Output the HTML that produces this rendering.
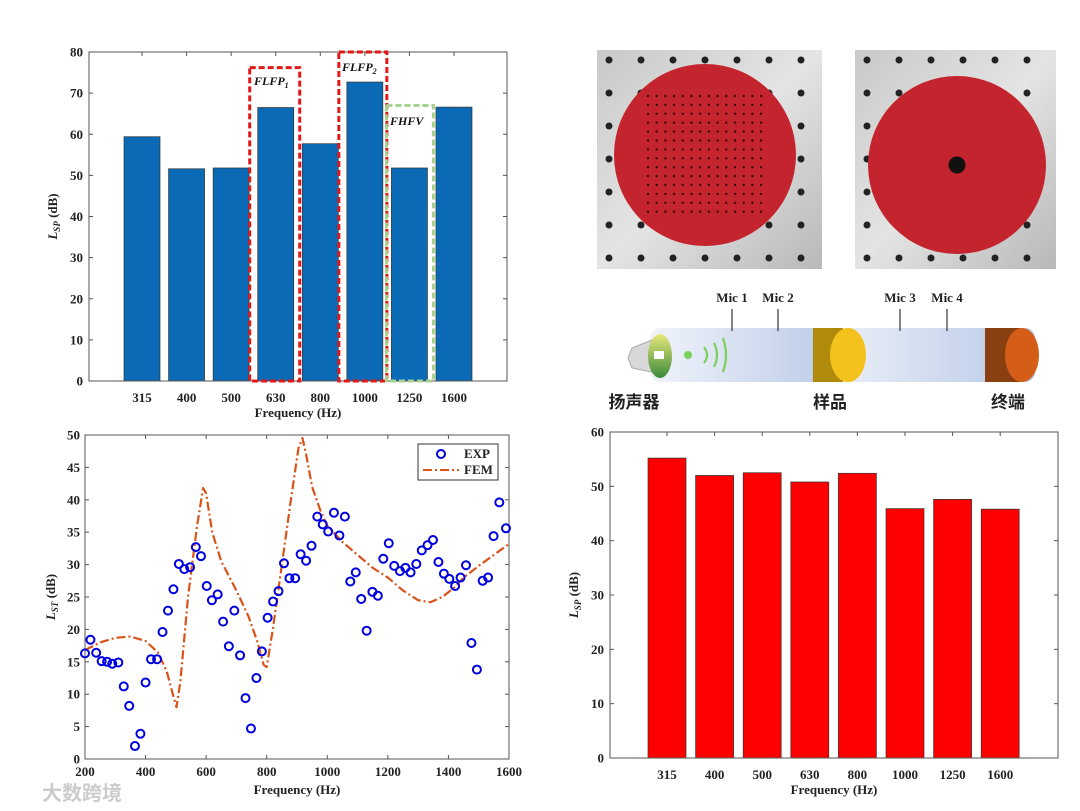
<!DOCTYPE html>
<html><head><meta charset="utf-8">
<style>
html,body{margin:0;padding:0;background:#fff;}
svg{display:block;font-family:"Liberation Serif","Noto Serif CJK SC",serif;}
.t{font-weight:bold;font-size:13px;fill:#222;}
</style></head>
<body>
<svg id="fig" width="1080" height="811" viewBox="0 0 1080 811">
<defs>
<linearGradient id="tube" x1="0" y1="0" x2="1" y2="0"><stop offset="0" stop-color="#eef2fa"/><stop offset="0.45" stop-color="#b8c8e6"/><stop offset="0.5" stop-color="#e6ecf6"/><stop offset="1" stop-color="#b0c2e4"/></linearGradient>
<linearGradient id="spk" x1="0" y1="0" x2="0" y2="1"><stop offset="0" stop-color="#e8e87a"/><stop offset="1" stop-color="#3a8a3a"/></linearGradient>
<linearGradient id="gray" x1="0" y1="0" x2="1" y2="1"><stop offset="0" stop-color="#c9c9c9"/><stop offset="0.5" stop-color="#e4e4e4"/><stop offset="1" stop-color="#b8b8b8"/></linearGradient>
</defs>
<g id="tl"></g>
<g id="bl"></g>
<g id="br"></g>
<g id="photos"></g>
<g id="schem"></g>
<text x="42" y="800" font-size="20" font-weight="bold" fill="#ccc" font-family="'Noto Sans CJK SC',sans-serif">大数跨境</text>
</svg>
<script>
// ---- data ----
const catLabels = ["315","400","500","630","800","1000","1250","1600"];
const tlValues = [59.4,51.6,51.8,66.5,57.7,72.7,51.8,66.6];
const tlYTicks = [0,10,20,30,40,50,60,70,80];
const brValues = [55.2,52.0,52.5,50.8,52.4,45.9,47.6,45.8];
const brYTicks = [0,10,20,30,40,50,60];
const expFreq = [200,218,237,255,273,290,310,328,346,365,383,400,418,438,456,474,492,510,528,547,566,583,602,619,638,656,675,693,712,730,748,766,784,803,821,839,857,875,894,912,930,948,967,985,1003,1022,1040,1058,1076,1094,1112,1130,1149,1167,1185,1203,1221,1240,1258,1275,1294,1312,1331,1349,1367,1385,1403,1422,1440,1458,1476,1494,1513,1531,1549,1568,1590];
const expValues = [16.3,18.4,16.4,15.1,15,14.7,14.9,11.2,8.2,2,3.9,11.8,15.4,15.4,19.6,22.9,26.2,30.1,29.3,29.6,32.7,31.3,26.7,24.5,25.4,21.2,17.4,22.9,16,9.4,4.7,12.5,16.6,21.8,24.3,25.9,30.2,27.9,27.9,31.6,30.6,32.9,37.4,36.2,35.1,38,34.5,37.4,27.4,28.8,24.7,19.8,25.8,25.2,30.9,33.3,29.8,29,29.5,28.8,30.1,32.2,33,33.8,30.4,28.6,27.8,26.7,28,29.9,17.9,13.8,27.5,28,34.4,39.6,35.6];
const femFreq = [200,250,300,350,400,440,470,490,502,515,540,570,590,600,620,650,700,740,770,790,800,820,850,880,905,918,930,950,980,1000,1050,1100,1150,1200,1250,1300,1340,1380,1420,1450,1500,1550,1600];
const femValues = [16.8,18,18.7,18.9,18.2,16.5,13.5,10,8,12,25,36,41.8,41,35,30.5,26,22,18,14.5,14.2,20,30,40,48,49.5,47,42,38,36,33.5,31.5,29.5,28,26,24.5,24.2,25,26.5,28,29.8,31.5,33.2];
const blXTicks = [200,400,600,800,1000,1200,1400,1600];
const blYTicks = [0,5,10,15,20,25,30,35,40,45,50];

const NS="http://www.w3.org/2000/svg";
function mk(tag,attrs,parent,txt){const e=document.createElementNS(NS,tag);for(const k in attrs)e.setAttribute(k,attrs[k]);if(txt!==undefined)e.textContent=txt;parent.appendChild(e);return e;}

function barChart(g,box,vals,yTicks,ymax,c0,dc,bw,fill,ylab){
  const [x0,y0,x1,y1]=box;
  const ys=v=>y1-(v/ymax)*(y1-y0);
  const xs=i=>c0+i*dc;
  vals.forEach((v,i)=>{
    const r=mk('rect',{x:xs(i)-bw/2,y:ys(v),width:bw,height:y1-ys(v),fill:fill,stroke:'#333','stroke-width':0.7},g);
    
    
  });
  const ax=mk('rect',{x:x0,y:y0,width:x1-x0,height:y1-y0,fill:'none',stroke:'#555','stroke-width':1},g);
  
  yTicks.forEach(t=>{
    const y=ys(t);
    mk('line',{x1:x0,x2:x0+4,y1:y,y2:y,stroke:'#555'},g);
    mk('line',{x1:x1,x2:x1-4,y1:y,y2:y,stroke:'#555'},g);
    const l=mk('text',{x:x0-6,y:y+4.5,'text-anchor':'end',class:'t'},g,String(t));
    
  });
  catLabels.forEach((c,i)=>{
    mk('line',{x1:xs(i),x2:xs(i),y1:y0,y2:y0+4,stroke:'#555'},g);
    const l=mk('text',{x:xs(i),y:y1+21,'text-anchor':'middle',class:'t'},g,c);
    
  });
  const xt=mk('text',{x:(x0+x1)/2,y:y1+36,'text-anchor':'middle',class:'t'},g,'Frequency  (Hz)');
  
  const yt=mk('text',{transform:`translate(${x0-32},${(y0+y1)/2}) rotate(-90)`,'text-anchor':'middle',class:'t'},g);
  
  mk('tspan',{'font-style':'italic'},yt,'L');
  mk('tspan',{'font-style':'italic','font-size':'9','dy':'3'},yt,ylab);
  mk('tspan',{'dy':'-3'},yt,' (dB)');
  return {xs,ys};
}

// top-left
const tl=document.getElementById('tl');
const A=barChart(tl,[89,52,507,381],tlValues,tlYTicks,80,142,44.57,36,'#0a6ab5','SP');
function dbox(x0,x1,ytop,col,label,lx,ly,name){
  const r=mk('rect',{x:x0,y:ytop,width:x1-x0,height:A.ys(0)-ytop,fill:'none',stroke:col,'stroke-width':3,'stroke-dasharray':'6,3'},tl);
  
  const t=mk('text',{x:lx,y:ly,'font-style':'italic','font-weight':'bold','font-size':'12','fill':'#111'},tl,label[0]);
  if(label[1]) mk('tspan',{'font-size':'8','dy':'3'},t,label[1]);
}
dbox(A.xs(3)-26,A.xs(3)+24,A.ys(76.2),'#e01818',['FLFP','1'],254,85,'flfp1-box');
dbox(A.xs(5)-26,A.xs(5)+22,A.ys(80),'#e01818',['FLFP','2'],342,71,'flfp2-box');
dbox(A.xs(6)-23,A.xs(6)+24,A.ys(67),'#a8d090',['FHFV'],390,125,'fhfv-box');

// bottom-right
barChart(document.getElementById('br'),[610,432,1058,758],brValues,brYTicks,60,667,47.6,38,'#ff0000','SP');

// bottom-left line chart
(function(){
  const g=document.getElementById('bl');
  const x0=85,x1=509,y0=435,y1=759;
  const xs=f=>x0+(f-200)/1400*(x1-x0);
  const ys=v=>y1-v/50*(y1-y0);
  mk('rect',{x:x0,y:y0,width:x1-x0,height:y1-y0,fill:'none',stroke:'#555'},g);
  blYTicks.forEach(t=>{const y=ys(t);
    mk('line',{x1:x0,x2:x0+4,y1:y,y2:y,stroke:'#555'},g);mk('line',{x1:x1,x2:x1-4,y1:y,y2:y,stroke:'#555'},g);
    const l=mk('text',{x:x0-5,y:y+4.5,'text-anchor':'end',class:'t'},g,String(t));
    });
  blXTicks.forEach(t=>{const x=xs(t);
    mk('line',{x1:x,x2:x,y1:y1,y2:y1-4,stroke:'#555'},g);mk('line',{x1:x,x2:x,y1:y0,y2:y0+4,stroke:'#555'},g);
    const l=mk('text',{x:x,y:y1+17,'text-anchor':'middle',class:'t'},g,String(t));
    });
  const xt=mk('text',{x:(x0+x1)/2,y:y1+35,'text-anchor':'middle',class:'t'},g,'Frequency  (Hz)');
  
  const yt=mk('text',{transform:`translate(${x0-30},${(y0+y1)/2}) rotate(-90)`,'text-anchor':'middle',class:'t'},g);
  
  mk('tspan',{'font-style':'italic'},yt,'L');mk('tspan',{'font-style':'italic','font-size':'9','dy':'3'},yt,'ST');mk('tspan',{'dy':'-3'},yt,' (dB)');
  const d=femFreq.map((f,i)=>(i?'L':'M')+xs(f).toFixed(1)+','+ys(femValues[i]).toFixed(1)).join(' ');
  const p=mk('path',{d:d,fill:'none',stroke:'#d95319','stroke-width':2.2,'stroke-dasharray':'9,3,2,3','stroke-linejoin':'round'},g);
  
  expFreq.forEach((f,i)=>{
    const c=mk('circle',{cx:xs(f),cy:ys(expValues[i]),r:4,fill:'none',stroke:'#0000e0','stroke-width':2},g);
    
  });
  const lg=mk('g',{},g);
  mk('rect',{x:418,y:444,width:80,height:36,fill:'#fff',stroke:'#333'},lg);
  mk('circle',{cx:441,cy:454,r:4,fill:'none',stroke:'#0000e0','stroke-width':2},lg);
  mk('text',{x:464,y:458,class:'t','font-size':'12'},lg,'EXP');
  mk('line',{x1:423,x2:459,y1:470,y2:470,stroke:'#d95319','stroke-width':2,'stroke-dasharray':'9,3,2,3'},lg);
  mk('text',{x:464,y:474,class:'t','font-size':'12'},lg,'FEM');
})();

// photos
(function(){
  const g=document.getElementById('photos');
  function plate(x,y,w,h,cx,cy,r,name){
    const pg=mk('g',{},g);
    mk('rect',{x:x,y:y,width:w,height:h,fill:'url(#gray)'},pg);
    for(let hx=x+12;hx<x+w;hx+=32)for(let hy=y+10;hy<y+h;hy+=33)mk('circle',{cx:hx,cy:hy,r:3.5,fill:'#222'},pg);
    mk('circle',{cx:cx,cy:cy,r:r,fill:'#c4242d'},pg);
    return pg;
  }
  const p1=plate(597,50,225,219,705,155,91,'perforated-sample-photo');
  for(let i=0;i<14;i++)for(let j=0;j<14;j++)mk('circle',{cx:648+i*8.7,cy:96+j*8.9,r:1.2,fill:'#3a0a0a'},p1);
  const p2=plate(855,50,201,219,957,165,89,'solid-sample-photo');
  mk('circle',{cx:957,cy:165,r:8.5,fill:'#111'},p2);
})();

// schematic
(function(){
  const g=document.getElementById('schem');
  mk('rect',{x:650,y:328,width:385,height:54,rx:10,fill:'url(#tube)',opacity:0.9},g);
  mk('path',{d:'M652,340 L632,348 L628,358 L632,368 L652,372 Z',fill:'#d8d8d8',stroke:'#aaa'},g);
  mk('ellipse',{cx:660,cy:356,rx:12,ry:22,fill:'url(#spk)'},g);
  mk('rect',{x:654,y:351,width:10,height:8,fill:'#fff'},g);
  mk('circle',{cx:688,cy:355,r:4,fill:'#7ccf5a'},g);
  [[704,8],[714,12],[723,17]].forEach(a=>mk('path',{d:`M${a[0]},${355-a[1]} Q${a[0]+6},355 ${a[0]},${355+a[1]}`,fill:'none',stroke:'#7ccf5a','stroke-width':2.2},g));
  mk('rect',{x:813,y:328,width:30,height:54,fill:'#b08a0a'},g);
  mk('ellipse',{cx:813,cy:355,rx:0.1,ry:27,fill:'#b08a0a'},g);
  mk('ellipse',{cx:848,cy:355,rx:18,ry:27,fill:'#f4c21c'},g);
  mk('rect',{x:985,y:328,width:35,height:54,fill:'#8a3f10'},g);
  mk('ellipse',{cx:1022,cy:355,rx:17,ry:27,fill:'#d45e18'},g);
  [[732,'Mic 1'],[778,'Mic 2'],[900,'Mic 3'],[947,'Mic 4']].forEach(m=>{
    mk('line',{x1:m[0],x2:m[0],y1:309,y2:331,stroke:'#333','stroke-width':1.2},g);
    const t=mk('text',{x:m[0],y:302,'text-anchor':'middle',class:'t','font-size':'12'},g,m[1]);
    
  });
  [[634,'扬声器'],[830,'样品'],[1008,'终端']].forEach(m=>{
    const t=mk('text',{x:m[0],y:408,'text-anchor':'middle','font-size':'17','font-weight':'bold',fill:'#222','font-family':"'Noto Sans CJK SC',sans-serif"},g,m[1]);
    
  });
})();
</script>
</body></html>
